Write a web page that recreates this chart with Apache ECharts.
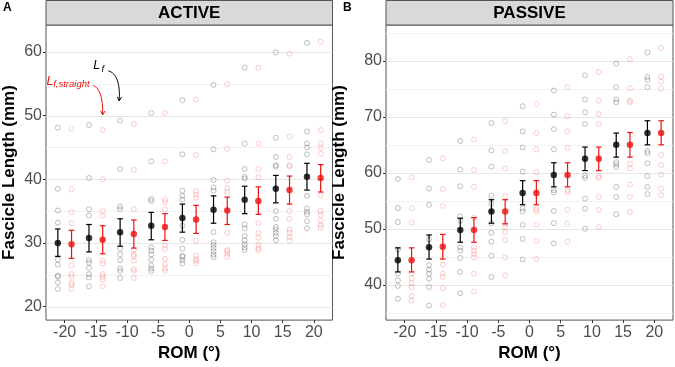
<!DOCTYPE html>
<html>
<head>
<meta charset="utf-8">
<script src="https://cdn.jsdelivr.net/npm/echarts@6/dist/echarts.min.js"></script>
<style>
  html, body { margin: 0; padding: 0; background: #fff; }
  #chart { width: 675px; height: 367px; }
</style>
</head>
<body>
<div id="chart"></div>
<script>
// ROM positions (deg) and axis ticks
const rom = [-20, -15, -10, -5, 0, 5, 10, 15, 20];
const romTicks = [-20, -15, -10, -5, 0, 5, 10, 15, 20];
const activeTicks = [20, 30, 40, 50, 60];
const activeMinor = [25, 35, 45, 55];
const passiveTicks = [40, 50, 60, 70, 80];
const passiveMinor = [35, 45, 55, 65, 75, 85];

// individual subjects, ACTIVE, Lf (black)
const activeLf = [
  [48.1, 38.5, 35.1, 33.2, 27.4, 26.6, 24.9, 24.7, 23.8, 22.8],
  [48.5, 40.2, 35.3, 34.3, 27.3, 26.9, 26.1, 25.1, 24.6, 23.2],
  [49.2, 41.6, 35.7, 35.3, 29.1, 28.2, 27.3, 26.0, 25.6, 24.5],
  [50.4, 42.8, 36.9, 36.6, 29.3, 28.8, 28.2, 27.4, 26.5, 26.0, 25.6],
  [52.4, 43.9, 38.2, 37.4, 36.8, 32.7, 30.5, 29.1, 28.0, 27.8, 27.3, 26.8],
  [54.8, 44.7, 39.9, 38.7, 38.2, 31.7, 30.1, 29.7, 29.2, 28.7, 28.2, 27.8],
  [57.5, 45.6, 41.6, 40.4, 40.1, 32.9, 32.3, 31.1, 30.4, 29.8, 29.3, 28.9],
  [59.9, 46.5, 43.5, 42.2, 42.0, 35.0, 33.8, 32.5, 32.1, 31.6, 31.1, 30.4],
  [61.4, 47.5, 45.6, 45.0, 43.9, 37.4, 35.4, 34.9, 34.5, 33.4, 32.3]
];
// ACTIVE, Lf,straight (red)
const activeLfStraight = [
  [48.0, 38.4, 34.8, 33.1, 26.5, 25.1, 24.7, 23.7, 23.4, 22.8],
  [47.7, 40.0, 35.0, 34.3, 27.2, 26.8, 25.1, 24.7, 24.3, 23.2],
  [48.7, 41.5, 35.3, 28.9, 28.2, 27.9, 27.2, 25.9, 25.6, 24.5],
  [50.4, 42.8, 36.8, 36.4, 35.3, 29.6, 29.1, 27.5, 26.6, 26.0, 25.6],
  [52.5, 43.8, 38.1, 37.6, 37.1, 30.4, 28.0, 27.5, 27.2, 26.8],
  [54.9, 44.8, 39.8, 38.6, 38.0, 31.6, 28.9, 28.7, 28.3, 27.8],
  [57.5, 45.6, 41.6, 40.3, 33.1, 31.6, 30.8, 29.7, 29.2, 28.9],
  [59.7, 46.7, 43.5, 42.2, 42.0, 35.0, 33.8, 32.1, 31.6, 30.9, 30.4],
  [61.6, 47.7, 45.6, 44.9, 44.0, 37.5, 35.0, 34.4, 33.5, 32.8, 32.4]
];
// PASSIVE, Lf (black)
const passiveLf = [
  [58.9, 53.7, 51.2, 46.3, 42.0, 40.8, 39.8, 37.5],
  [62.3, 57.2, 54.3, 48.1, 43.5, 42.7, 42.0, 41.1, 39.6, 36.3],
  [65.7, 60.6, 57.6, 52.2, 51.4, 46.7, 46.1, 44.8, 42.3, 38.5],
  [68.9, 64.0, 61.1, 55.9, 54.5, 51.0, 49.3, 47.7, 45.2, 41.4],
  [71.9, 67.4, 64.5, 60.2, 53.6, 53.1, 50.7, 48.2, 44.5],
  [74.7, 70.4, 67.8, 64.2, 56.9, 56.5, 53.2, 51.0, 47.4],
  [77.4, 73.1, 70.8, 68.7, 59.5, 59.1, 55.4, 53.6, 50.0],
  [79.5, 75.3, 73.1, 72.6, 61.9, 61.5, 61.0, 57.5, 55.7, 52.6],
  [81.5, 77.1, 76.6, 75.3, 63.9, 63.5, 61.7, 59.4, 57.5, 56.2]
];
// PASSIVE, Lf,straight (red)
const passiveLfStraight = [
  [59.2, 53.7, 51.1, 42.0, 41.2, 40.3, 39.6, 38.0, 37.2],
  [62.6, 57.1, 54.1, 43.6, 42.0, 41.4, 39.4, 36.4],
  [66.0, 60.5, 57.5, 52.0, 46.7, 46.1, 45.5, 44.9, 42.0, 38.8],
  [69.2, 63.9, 60.8, 55.8, 51.0, 50.3, 49.4, 48.0, 44.9, 41.7],
  [72.3, 67.1, 64.2, 60.1, 53.5, 53.1, 50.8, 47.9, 44.6],
  [75.3, 70.1, 67.4, 64.4, 56.9, 56.5, 53.4, 50.9, 47.7],
  [78.0, 72.9, 70.5, 68.7, 59.4, 59.1, 55.7, 53.4, 50.3],
  [80.3, 75.1, 72.9, 72.6, 61.6, 60.8, 57.9, 55.7, 53.0],
  [82.3, 77.2, 76.3, 75.0, 63.2, 61.4, 59.7, 57.2, 56.0]
];

// group means and error bar ends
const activeLfMean = [30.0, 30.8, 31.7, 32.7, 33.9, 35.2, 36.8, 38.5, 40.4];
const activeLfLo   = [27.9, 28.6, 29.5, 30.5, 31.7, 33.1, 34.6, 36.3, 38.3];
const activeLfHi   = [32.2, 32.9, 33.8, 34.8, 36.1, 37.4, 38.9, 40.6, 42.5];
const activeStrMean = [29.8, 30.5, 31.4, 32.5, 33.7, 35.1, 36.6, 38.3, 40.2];
const activeStrLo   = [27.6, 28.3, 29.2, 30.4, 31.5, 32.9, 34.5, 36.1, 38.0];
const activeStrHi   = [32.0, 32.7, 33.6, 34.6, 35.9, 37.2, 38.8, 40.5, 42.3];
const passiveLfMean = [44.4, 46.7, 49.8, 53.1, 56.4, 59.6, 62.5, 65.0, 67.1];
const passiveLfLo   = [42.3, 44.6, 47.6, 51.0, 54.3, 57.5, 60.4, 62.8, 65.0];
const passiveLfHi   = [46.6, 48.9, 51.9, 55.2, 58.6, 61.8, 64.6, 67.1, 69.3];
const passiveStrMean = [44.4, 46.8, 49.8, 53.1, 56.4, 59.6, 62.5, 65.0, 67.1];
const passiveStrLo   = [42.3, 44.6, 47.6, 50.9, 54.3, 57.5, 60.4, 62.8, 65.0];
const passiveStrHi   = [46.6, 49.0, 52.0, 55.2, 58.6, 61.8, 64.6, 67.2, 69.3];

const DODGE = 1.1;
const FONT = "'Liberation Sans', Arial, sans-serif";
const BLACK = '#000000';
const RED = '#ee1111';

const chart = echarts.init(document.getElementById('chart'), null, { renderer: 'canvas' });

function subjects(vals, dx) {
  const out = [];
  rom.forEach((r, i) => vals[i].forEach(v => out.push([r + dx, v])));
  return out;
}

function gridLines(gi, values, color, width) {
  return {
    type: 'custom', xAxisIndex: gi, yAxisIndex: gi, silent: true, z: 1,
    data: values.map(v => [0, v]),
    renderItem: (params, api) => {
      const cs = params.coordSys;
      const y = Math.round(api.coord([0, api.value(1)])[1]) + 0.5;
      return { type: 'line', shape: { x1: cs.x, y1: y, x2: cs.x + cs.width, y2: y },
               style: { stroke: color, lineWidth: width } };
    }
  };
}

function errorBars(gi, lo, hi, dx, color) {
  return {
    type: 'custom', xAxisIndex: gi, yAxisIndex: gi, silent: true, z: 4,
    data: rom.map((r, i) => [r + dx, lo[i], hi[i]]),
    encode: { x: 0, y: [1, 2] },
    renderItem: (params, api) => {
      const x = api.value(0);
      const t = api.coord([x, api.value(2)]);
      const b = api.coord([x, api.value(1)]);
      const w = 2.8;
      const style = { stroke: color, lineWidth: 1.2 };
      return { type: 'group', children: [
        { type: 'line', shape: { x1: t[0], y1: t[1], x2: b[0], y2: b[1] }, style },
        { type: 'line', shape: { x1: t[0] - w, y1: t[1], x2: t[0] + w, y2: t[1] }, style },
        { type: 'line', shape: { x1: b[0] - w, y1: b[1], x2: b[0] + w, y2: b[1] }, style }
      ]};
    }
  };
}

function panel(gi, lf, lfStr, m1, lo1, hi1, m2, lo2, hi2, major, minor) {
  return [
    gridLines(gi, minor, '#f2f2f2', 1),
    gridLines(gi, major, '#e6e6e6', 1),
    { type: 'scatter', xAxisIndex: gi, yAxisIndex: gi, silent: true, z: 3,
      symbol: 'circle', symbolSize: 5,
      itemStyle: { color: 'transparent', borderColor: 'rgba(0,0,0,0.38)', borderWidth: 0.8 },
      data: subjects(lf, -DODGE) },
    { type: 'scatter', xAxisIndex: gi, yAxisIndex: gi, silent: true, z: 3,
      symbol: 'circle', symbolSize: 5,
      itemStyle: { color: 'transparent', borderColor: 'rgba(240,30,30,0.35)', borderWidth: 0.8 },
      data: subjects(lfStr, DODGE) },
    errorBars(gi, lo1, hi1, -DODGE, BLACK),
    errorBars(gi, lo2, hi2, DODGE, RED),
    { type: 'scatter', xAxisIndex: gi, yAxisIndex: gi, silent: true, z: 5,
      symbol: 'circle', symbolSize: 6.5, itemStyle: { color: BLACK },
      data: rom.map((r, i) => [r - DODGE, m1[i]]) },
    { type: 'scatter', xAxisIndex: gi, yAxisIndex: gi, silent: true, z: 5,
      symbol: 'circle', symbolSize: 6.5, itemStyle: { color: RED },
      data: rom.map((r, i) => [r + DODGE, m2[i]]) }
  ];
}

function xAxis(gi) {
  return {
    type: 'value', gridIndex: gi, min: -23, max: 23,
    name: 'ROM (°)', nameLocation: 'middle', nameGap: 22,
    nameTextStyle: { fontFamily: FONT, fontWeight: 'bold', fontSize: 17, color: '#000' },
    axisLine: { show: false, onZero: false },
    axisTick: { show: true, customValues: romTicks, length: 3, lineStyle: { color: '#333', width: 1 } },
    axisLabel: { customValues: romTicks, color: '#4d4d4d', fontFamily: FONT, fontSize: 16, margin: 4 },
    splitLine: { show: false }
  };
}

function yAxis(gi, min, max, ticks, gap) {
  return {
    type: 'value', gridIndex: gi, min, max,
    name: 'Fascicle Length (mm)', nameLocation: 'middle', nameGap: gap,
    nameTextStyle: { fontFamily: FONT, fontWeight: 'bold', fontSize: 17, color: '#000' },
    axisLine: { show: false, onZero: false },
    axisTick: { show: true, customValues: ticks, length: 3, lineStyle: { color: '#333', width: 1 } },
    axisLabel: { customValues: ticks, color: '#4d4d4d', fontFamily: FONT, fontSize: 16, margin: 4 },
    splitLine: { show: false }
  };
}

chart.setOption({
  animation: false,
  backgroundColor: '#fff',
  grid: [
    { left: 44.5, top: 25, width: 288, height: 301, show: true, borderColor: '#555', borderWidth: 1, backgroundColor: 'transparent' },
    { left: 386, top: 25, width: 287, height: 301, show: true, borderColor: '#555', borderWidth: 1, backgroundColor: 'transparent' }
  ],
  xAxis: [xAxis(0), xAxis(1)],
  yAxis: [yAxis(0, 17.9, 64.2, activeTicks, 28), yAxis(1, 33.7, 86.4, passiveTicks, 38)],
  series: [
    ...panel(0, activeLf, activeLfStraight, activeLfMean, activeLfLo, activeLfHi,
             activeStrMean, activeStrLo, activeStrHi, activeTicks, activeMinor),
    ...panel(1, passiveLf, passiveLfStraight, passiveLfMean, passiveLfLo, passiveLfHi,
             passiveStrMean, passiveStrLo, passiveStrHi, passiveTicks, passiveMinor)
  ]
});

// annotation anchors in panel A data coordinates
const lfText = [-15.4, 57.8];
const lfSub = [-14.1, 57.2];
const lfArrow = [[-13.0, 57.0], [-11.7, 56.7], [-11.05, 55.0], [-11.25, 52.3]];
const strText = [-22.9, 55.35];
const strSub = [-21.85, 54.85];
const strArrow = [[-15.4, 54.7], [-14.4, 54.35], [-13.8, 52.7], [-13.9, 50.1]];

const px = p => chart.convertToPixel({ xAxisIndex: 0, yAxisIndex: 0 }, p);

function arrow(pts, color) {
  const [a, c1, c2, b] = pts.map(px);
  const ang = Math.atan2(b[1] - c2[1], b[0] - c2[0]);
  const h = 4.5, s = 0.5;
  return [
    { type: 'bezierCurve', silent: true, z: 10,
      shape: { x1: a[0], y1: a[1], cpx1: c1[0], cpy1: c1[1], cpx2: c2[0], cpy2: c2[1], x2: b[0], y2: b[1] },
      style: { stroke: color, lineWidth: 1, fill: null } },
    { type: 'polyline', silent: true, z: 10,
      shape: { points: [
        [b[0] - h * Math.cos(ang - s), b[1] - h * Math.sin(ang - s)],
        b,
        [b[0] - h * Math.cos(ang + s), b[1] - h * Math.sin(ang + s)] ] },
      style: { stroke: color, lineWidth: 1, fill: null } }
  ];
}

function label(p, text, size, color) {
  const q = px(p);
  return { type: 'text', silent: true, z: 10, x: q[0], y: q[1],
    style: { text, fontFamily: FONT, fontStyle: 'italic', fontSize: size, fill: color,
             align: 'left', verticalAlign: 'middle' } };
}

const gA = chart.getModel().getComponent('grid', 0).coordinateSystem.getRect();
const gB = chart.getModel().getComponent('grid', 1).coordinateSystem.getRect();

function strip(rect, text) {
  return [
    { type: 'rect', silent: true, z: 10,
      shape: { x: rect.x, y: 0.5, width: rect.width, height: rect.y - 0.5 },
      style: { fill: '#d9d9d9', stroke: '#555', lineWidth: 1 } },
    { type: 'text', silent: true, z: 11, x: rect.x + rect.width / 2, y: rect.y / 2 + 0.5,
      style: { text, fontFamily: FONT, fontWeight: 'bold', fontSize: 17, fill: '#000',
               align: 'center', verticalAlign: 'middle' } }
  ];
}

chart.setOption({
  graphic: [
    ...strip(gA, 'ACTIVE'),
    ...strip(gB, 'PASSIVE'),
    { type: 'text', silent: true, x: 3, y: 2,
      style: { text: 'A', fontFamily: FONT, fontWeight: 'bold', fontSize: 12, fill: '#000' } },
    { type: 'text', silent: true, x: 343, y: 2,
      style: { text: 'B', fontFamily: FONT, fontWeight: 'bold', fontSize: 12, fill: '#000' } },
    label(lfText, 'L', 12.5, '#000'),
    label(lfSub, 'f', 9.5, '#000'),
    ...arrow(lfArrow, '#000'),
    label(strText, 'L', 12.5, RED),
    label(strSub, 'f,straight', 9.5, RED),
    ...arrow(strArrow, RED)
  ]
});
</script>
</body>
</html>
